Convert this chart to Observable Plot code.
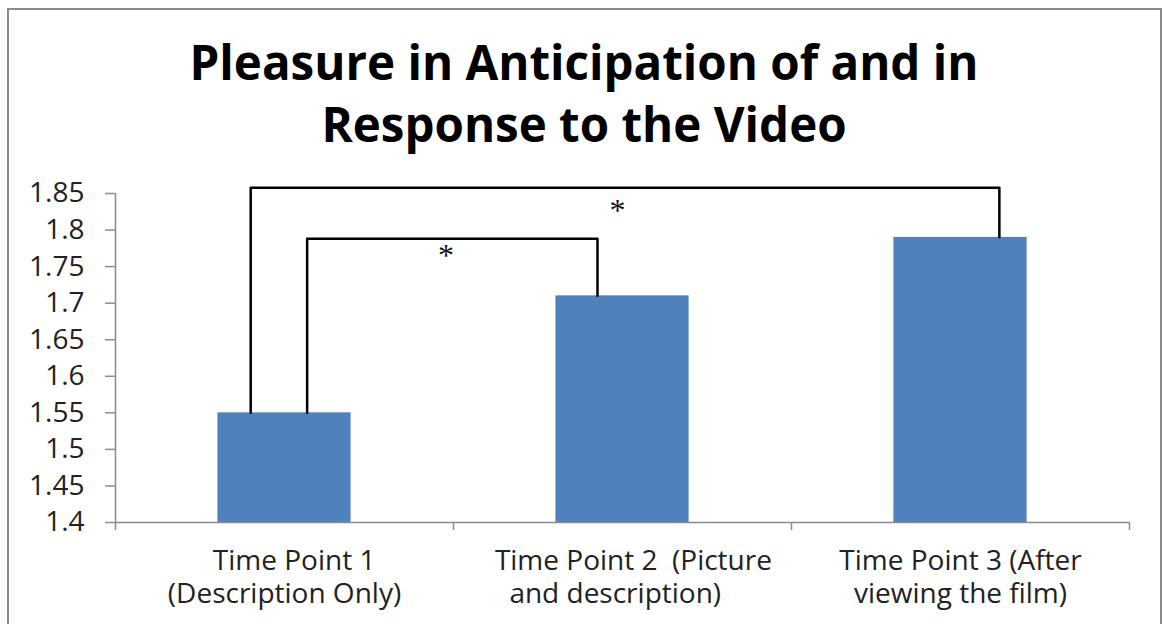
<!DOCTYPE html>
<html>
<head>
<meta charset="utf-8">
<script src="https://cdn.jsdelivr.net/npm/d3@7"></script>
<script src="https://cdn.jsdelivr.net/npm/@observablehq/plot@0.6"></script>
<style>
  html, body { margin: 0; padding: 0; background: #fff; width: 1162px; height: 624px; overflow: hidden; }
  #frame { position: absolute; left: 7px; top: 8px; width: 1151px; height: 700px; border: 2px solid #8a8a8a; pointer-events: none; }
  #title { height: 165px; width: 1168px; box-sizing: border-box; padding-top: 31px; text-align: center;
           font-family: "Open Sans", sans-serif; font-weight: 700; font-size: 47.5px; line-height: 62px; color: #000; }
  #chart svg { display: block; }
</style>
</head>
<body>
<div id="title">Pleasure in Anticipation of and in<br>Response to the Video</div>
<div id="chart"></div>
<div id="frame"></div>
<script>
// ---- data ----
const categories = [
  "\u00a0\u00a0\u2009Time Point 1\n(Description Only)",
  "\u00a0\u00a0\u00a0Time Point 2  (Picture\nand description)\u00a0\u00a0",
  "Time Point 3 (After\nviewing the film)"
];
const positions = [0, 1, 2];
const values = [1.55, 1.71, 1.79];
const yTicks = [1.4, 1.45, 1.5, 1.55, 1.6, 1.65, 1.7, 1.75, 1.8, 1.85];
const boundaries = [-0.5, 0.5, 1.5, 2.5];
// significance brackets: left foot (x, y), top level, right foot (x, y)
const bracketLeftX = [-0.1, 0.067];
const bracketLeftY = [1.55, 1.55];
const bracketTop = [1.858, 1.788];
const bracketRightX = [2.115, 0.926];
const bracketRightY = [1.79, 1.71];
const starX = [0.985, 0.478];
const starY = [1.8267, 1.7645];
const starLabels = ["*", "*"];

const bars = positions.map((p, i) => ({pos: p, value: values[i], label: categories[i]}));
const bracketPts = [];
bracketLeftX.forEach((lx, i) => {
  bracketPts.push({id: i, x: lx, y: bracketLeftY[i]});
  bracketPts.push({id: i, x: lx, y: bracketTop[i]});
  bracketPts.push({id: i, x: bracketRightX[i], y: bracketTop[i]});
  bracketPts.push({id: i, x: bracketRightX[i], y: bracketRightY[i]});
});
const stars = starX.map((x, i) => ({x, y: starY[i], t: starLabels[i]}));

const gray = "#8c8c8c";
const halfBar = 0.197;

const plot = Plot.plot({
  width: 1162,
  height: 459,
  marginLeft: 115,
  marginRight: 33,
  marginTop: 28,
  marginBottom: 102,
  style: {fontFamily: "Open Sans, sans-serif", background: "transparent"},
  x: {type: "linear", domain: [boundaries[0], boundaries[boundaries.length - 1]]},
  y: {type: "linear", domain: [yTicks[0], yTicks[yTicks.length - 1]]},
  marks: [
    Plot.rect(bars, {x1: d => d.pos - halfBar, x2: d => d.pos + halfBar, y1: () => yTicks[0], y2: "value", fill: "#4F81BD"}),
    Plot.ruleY([yTicks[0]], {stroke: gray, strokeWidth: 1.5}),
    Plot.ruleX([boundaries[0]], {y1: yTicks[0], y2: yTicks[yTicks.length - 1], stroke: gray, strokeWidth: 1.5}),
    Plot.axisY({ticks: yTicks, tickSize: 10, tickFormat: () => "", stroke: gray, strokeWidth: 1.5}),
    Plot.axisY({ticks: yTicks, tickSize: 0, tickPadding: 31, tickFormat: d => String(d), fontSize: 28, fill: "#222"}),
    Plot.axisX({ticks: boundaries, tickSize: 8, tickFormat: () => "", stroke: gray, strokeWidth: 1.5}),
    Plot.text(bars, {x: "pos", text: "label", frameAnchor: "bottom", lineAnchor: "top", dy: 24, fontSize: 28, lineHeight: 1.18, fill: "#222"}),
    Plot.line(bracketPts, {x: "x", y: "y", z: "id", stroke: "#000", strokeWidth: 2.5, curve: "linear"}),
    Plot.text(stars, {x: "x", y: "y", text: "t", fontFamily: "Liberation Serif, serif", fontSize: 32, fill: "#111"})
  ]
});
document.getElementById("chart").appendChild(plot);
</script>
</body>
</html>
